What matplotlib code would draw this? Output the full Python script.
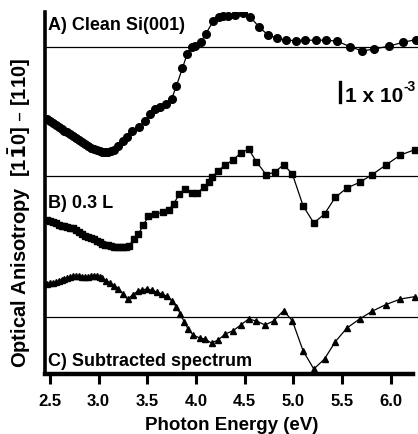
import matplotlib

matplotlib.use("Agg")
import matplotlib.pyplot as plt

plt.rcParams["font.family"] = ["Liberation Sans", "DejaVu Sans"]
plt.rcParams["font.weight"] = "bold"
plt.rcParams["mathtext.default"] = "bf"

# ---- data (units of 1e-3, relative to each trace's zero line) ----
A_E = [2.47, 2.50, 2.53, 2.56, 2.59, 2.62, 2.65, 2.68, 2.71, 2.74, 2.77, 2.80,
       2.83, 2.86, 2.89, 2.92, 2.95, 2.98, 3.01, 3.04, 3.07, 3.10, 3.13, 3.16,
       3.20, 3.25, 3.29, 3.34, 3.42, 3.48, 3.53, 3.58, 3.63, 3.69, 3.75, 3.80,
       3.86, 3.91, 3.96, 3.99, 4.05, 4.10, 4.18, 4.24, 4.28, 4.33, 4.40, 4.48,
       4.56, 4.65, 4.74, 4.83, 4.92, 5.03, 5.12, 5.23, 5.34, 5.45, 5.58, 5.71,
       5.83, 5.98, 6.13, 6.26]
A_val = [-3.62, -3.72, -3.82, -3.90, -3.98, -4.08, -4.18, -4.27, -4.36, -4.46,
         -4.56, -4.66, -4.76, -4.86, -4.96, -5.04, -5.11, -5.17, -5.22, -5.25,
         -5.26, -5.25, -5.21, -5.13, -4.95, -4.70, -4.52, -4.19, -4.02, -3.69,
         -3.35, -3.10, -3.02, -2.85, -2.60, -1.94, -1.07, -0.35, -0.02, 0.07,
         0.24, 0.65, 1.32, 1.49, 1.54, 1.54, 1.60, 1.70, 1.49, 0.99, 0.60, 0.44,
         0.34, 0.32, 0.34, 0.34, 0.34, 0.29, 0.02, -0.20, -0.10, 0.04, 0.24, 0.37]

B_E = [2.47, 2.50, 2.53, 2.56, 2.59, 2.62, 2.65, 2.68, 2.71, 2.74, 2.77, 2.80,
       2.83, 2.86, 2.89, 2.92, 2.95, 2.98, 3.01, 3.04, 3.07, 3.10, 3.13, 3.16,
       3.19, 3.22, 3.25, 3.28, 3.31, 3.36, 3.41, 3.46, 3.51, 3.58, 3.66, 3.72,
       3.77, 3.83, 3.89, 3.96, 4.01, 4.08, 4.13, 4.16, 4.23, 4.30, 4.38, 4.46,
       4.54, 4.62, 4.72, 4.81, 4.90, 4.99, 5.10, 5.21, 5.32, 5.43, 5.55, 5.68,
       5.81, 5.95, 6.10, 6.25]
B_val = [-2.18, -2.24, -2.31, -2.37, -2.43, -2.48, -2.52, -2.55, -2.58, -2.61,
         -2.68, -2.80, -2.92, -3.00, -3.06, -3.11, -3.16, -3.24, -3.32, -3.38,
         -3.43, -3.47, -3.51, -3.54, -3.56, -3.57, -3.56, -3.54, -3.50, -3.15,
         -2.90, -2.45, -2.02, -1.90, -1.82, -1.69, -1.40, -0.90, -0.65, -0.87,
         -0.85, -0.57, -0.32, -0.07, 0.27, 0.55, 0.80, 1.15, 1.35, 0.72, 0.07,
         0.19, 0.57, 0.10, -1.49, -2.35, -1.90, -1.07, -0.60, -0.32, 0.07, 0.55,
         1.05, 1.32]

C_E = [2.47, 2.50, 2.53, 2.56, 2.59, 2.62, 2.65, 2.68, 2.71, 2.74, 2.77, 2.80,
       2.83, 2.86, 2.89, 2.92, 2.95, 2.98, 3.01, 3.04, 3.08, 3.12, 3.16, 3.20,
       3.25, 3.30, 3.35, 3.40, 3.45, 3.50, 3.55, 3.60, 3.65, 3.70, 3.75, 3.80,
       3.84, 3.88, 3.92, 3.97, 4.04, 4.09, 4.16, 4.23, 4.30, 4.38, 4.46, 4.54,
       4.62, 4.71, 4.80, 4.90, 4.99, 5.10, 5.21, 5.32, 5.43, 5.55, 5.68, 5.81,
       5.95, 6.10, 6.25]
C_val = [1.66, 1.68, 1.70, 1.74, 1.80, 1.86, 1.90, 1.95, 2.00, 2.05, 2.06, 2.03,
         2.00, 1.99, 2.02, 2.05, 2.07, 2.05, 1.99, 1.93, 1.80, 1.68, 1.56, 1.42,
         1.17, 0.88, 1.12, 1.28, 1.36, 1.40, 1.34, 1.25, 1.15, 1.04, 0.82, 0.50,
         0.15, -0.25, -0.60, -0.90, -1.05, -1.10, -1.30, -1.14, -0.85, -0.69,
         -0.40, -0.10, -0.20, -0.40, -0.19, 0.32, -0.19, -1.69, -2.60, -2.10,
         -1.24, -0.55, -0.10, 0.29, 0.62, 0.90, 1.02]

offsets = {"A": 16.35, "B": 9.9, "C": 2.85}
labels = {"A": "A) Clean Si(001)", "B": "B) 0.3 L", "C": "C) Subtracted spectrum"}
label_y = {"A": 17.25, "B": 8.35, "C": 0.45}
xticks = [2.5, 3.0, 3.5, 4.0, 4.5, 5.0, 5.5, 6.0]

fig = plt.figure(figsize=(4.18, 4.35), dpi=100)
ax = fig.add_axes([45 / 418, 60 / 435, 373 / 418, 362 / 435])

series = [("A", A_E, A_val, "o", 5.5), ("B", B_E, B_val, "s", 5.0), ("C", C_E, C_val, "^", 4.5)]
for key, e, v, mk, ms in series:
    off = offsets[key]
    ax.axhline(off, color="black", lw=0.9)
    ax.plot(e, [off + y for y in v], color="black", lw=0.9, marker=mk, ms=ms,
            mec="black", mfc="black")
    ax.text(2.485, label_y[key], labels[key], fontsize=13, fontweight="bold",
            ha="left", va="baseline")

# scale bar: 1 x 10^-3
ax.plot([5.475, 5.475], [13.6, 14.6], color="black", lw=2.4)
t = ax.text(5.535, 13.65, "1 x 10", fontsize=15, fontweight="bold",
            ha="left", va="baseline", clip_on=False)
ax.annotate("-3", xy=(1, 0.62), xycoords=t, fontsize=10, fontweight="bold",
            ha="left", va="bottom", annotation_clip=False)

ax.set_xlim(2.45, 6.28)
ax.set_ylim(0, 18.1)
ax.set_xticks(xticks)
ax.set_xticklabels([f"{t:.1f}" for t in xticks], fontsize=12, fontweight="bold")
ax.set_yticks([])
ax.tick_params(axis="x", direction="out", length=7.5, width=2.2, pad=6)
for s in ["top", "right"]:
    ax.spines[s].set_visible(False)
ax.spines["left"].set_linewidth(2.6)
ax.spines["bottom"].set_linewidth(3.2)
ax.spines["bottom"].set_bounds(2.45, 6.23)
ax.set_xlabel("Photon Energy (eV)", fontsize=13.5, fontweight="bold", labelpad=6)
ax.set_ylabel(r"Optical Anisotropy  [1$\bar{1}$0] – [110]", fontsize=14.5,
              fontweight="bold")
ax.yaxis.set_label_coords(-0.032, 0.447)

fig.savefig("out.png", dpi=100)
